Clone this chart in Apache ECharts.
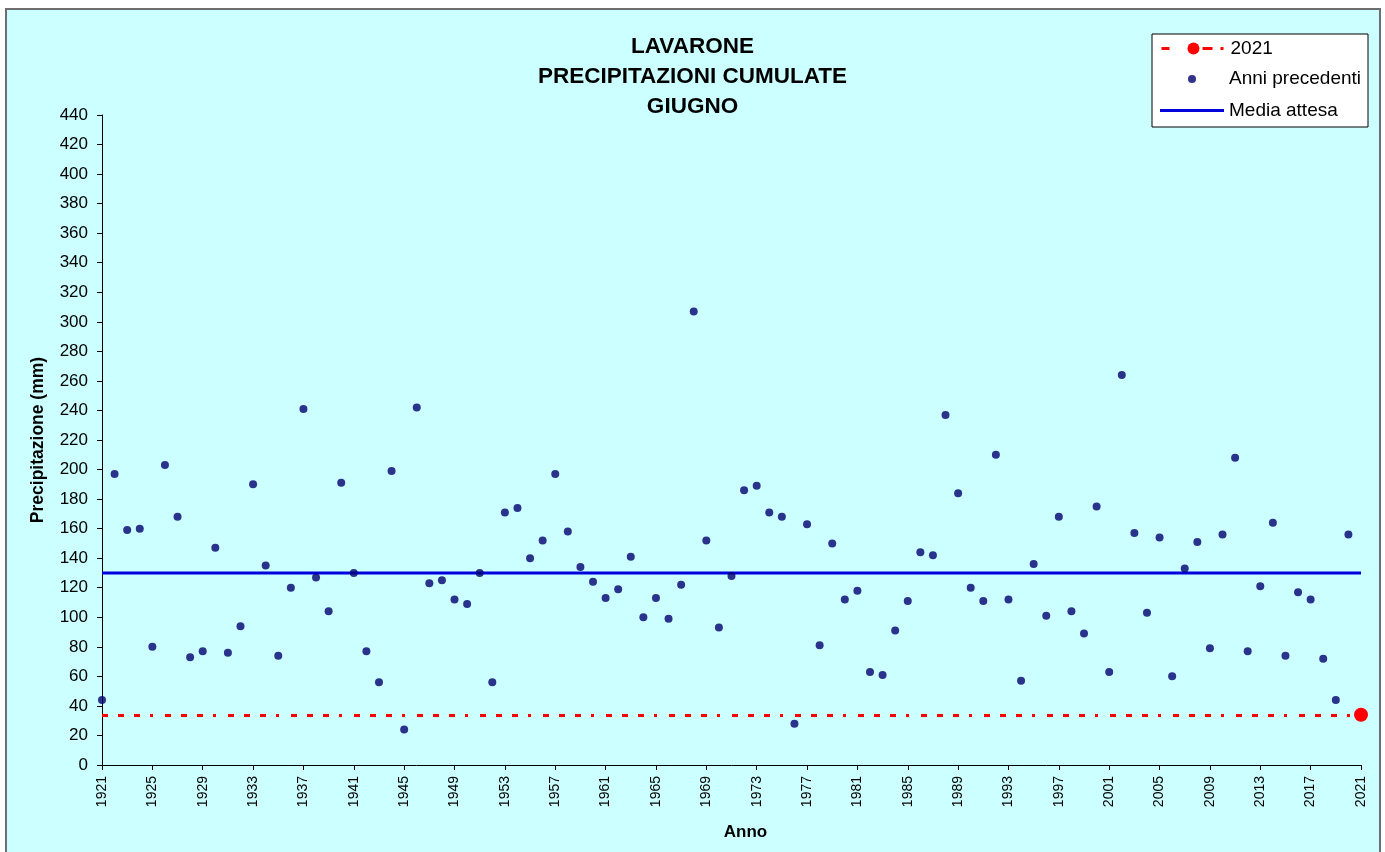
<!DOCTYPE html>
<html>
<head>
<meta charset="utf-8">
<script src="https://cdn.jsdelivr.net/npm/echarts@6/dist/echarts.min.js"></script>
<style>
  html, body { margin: 0; padding: 0; background: #ffffff; }
  #frame { position: absolute; left: 5px; top: 8px; width: 1372px; height: 860px; background: #ccffff; border: 2px solid #6e6e6e; }
  #chart { position: absolute; left: 0; top: 0; width: 1385px; height: 852px; }
</style>
</head>
<body>
<div id="frame"></div>
<div id="chart"></div>
<script>
// Years on the category axis (1921 .. 2021)
const years = [];
for (let y = 1921; y <= 2021; y++) years.push(String(y));

// Precipitation for previous years, 1921 .. 2020 (mm)
const anniPrecedenti = [
  44, 197, 159, 160, 80, 203, 168, 73, 77, 147,
  76, 94, 190, 135, 74, 120, 241, 127, 104, 191,
  130, 77, 56, 199, 24, 242, 123, 125, 112, 109,
  130, 56, 171, 174, 140, 152, 197, 158, 134, 124,
  113, 119, 141, 100, 113, 99, 122, 307, 152, 93,
  128, 186, 189, 171, 168, 28, 163, 81, 150, 112,
  118, 63, 61, 91, 111, 144, 142, 237, 184, 120,
  111, 210, 112, 57, 136, 101, 168, 104, 89, 175,
  63, 264, 157, 103, 154, 60, 133, 151, 79, 156,
  208, 77, 121, 164, 74, 117, 112, 72, 44, 156
];

// Current year value (mm)
const anno2021 = '2021';
const valore2021 = 34;

// Expected mean (mm)
const mediaAttesa = 130;

// Y tick range
const yMin = 0, yMax = 440, yStep = 20;

const FONT = '"Liberation Sans", Arial, sans-serif';
const redDash = [6, 10, 6, 10, 6, 10, 3, 12];

const chart = echarts.init(document.getElementById('chart'), null, { renderer: 'canvas' });

const legendText = { fontFamily: FONT, fontSize: 19, color: '#000' };

chart.setOption({
  backgroundColor: 'transparent',
  animation: false,
  title: {
    text: 'LAVARONE\nPRECIPITAZIONI CUMULATE\nGIUGNO',
    left: 'center',
    top: 27,
    textStyle: { fontFamily: FONT, fontSize: 22.5, fontWeight: 'bold', color: '#000', lineHeight: 30 }
  },
  graphic: [{
    type: 'rect',
    shape: { x: 1152, y: 34, width: 216, height: 93 },
    style: { fill: '#ffffff', stroke: '#000000', lineWidth: 1 },
    z: 0, silent: true
  }],
  legend: [
    { data: ['2021'], orient: 'vertical', left: 1160, top: 39, itemWidth: 64, itemHeight: 15, textStyle: legendText, padding: 0, z: 5,
      lineStyle: { type: [8, 33, 10, 8, 3, 10], width: 3 } },
    { data: ['Anni precedenti'], orient: 'vertical', left: 1188, top: 69.5, itemWidth: 8, itemHeight: 8, icon: 'circle',
      textStyle: Object.assign({}, legendText, { padding: [0, 0, 0, 28] }), padding: 0, z: 5 },
    { data: ['Media attesa'], orient: 'vertical', left: 1160, top: 101, itemWidth: 64, itemHeight: 3, icon: 'rect',
      textStyle: legendText, padding: 0, z: 5 }
  ],
  grid: { left: 102, right: 24, top: 115, bottom: 87, containLabel: false },
  xAxis: {
    type: 'category',
    data: years,
    boundaryGap: false,
    name: 'Anno',
    nameLocation: 'middle',
    nameGap: 59,
    nameTextStyle: { fontFamily: FONT, fontSize: 17, fontWeight: 'bold', color: '#000', padding: [0, 0, 0, 28] },
    axisLine: { lineStyle: { color: '#000', width: 1 } },
    axisTick: { interval: 3, length: 5, lineStyle: { color: '#000' } },
    axisLabel: { interval: 3, rotate: 90, margin: 11, fontFamily: FONT, fontSize: 14, color: '#000' },
    splitLine: { show: false }
  },
  yAxis: {
    type: 'value',
    min: yMin, max: yMax, interval: yStep,
    name: 'Precipitazione (mm)',
    nameLocation: 'middle',
    nameGap: 55,
    nameTextStyle: { fontFamily: FONT, fontSize: 17.5, fontWeight: 'bold', color: '#000' },
    axisLine: { show: true, lineStyle: { color: '#000', width: 1 } },
    axisTick: { show: true, length: 5, lineStyle: { color: '#000' } },
    axisLabel: { margin: 14, fontFamily: FONT, fontSize: 17, color: '#000' },
    splitLine: { show: false }
  },
  series: [
    {
      name: '2021',
      type: 'line',
      data: [[anno2021, valore2021]],
      symbol: 'circle',
      symbolSize: 14,
      itemStyle: { color: '#ff0000' },
      lineStyle: { color: '#ff0000', width: 3, type: redDash },
      z: 4,
      markLine: {
        silent: true,
        symbol: 'none',
        label: { show: false },
        lineStyle: { color: '#ff0000', width: 3, type: redDash },
        data: [{ yAxis: valore2021 }],
        z: 1
      }
    },
    {
      name: 'Anni precedenti',
      type: 'scatter',
      data: anniPrecedenti,
      symbol: 'circle',
      symbolSize: 8,
      itemStyle: { color: '#00006e' },
      z: 3
    },
    {
      name: 'Media attesa',
      type: 'line',
      data: [[years[0], mediaAttesa], [years[years.length - 1], mediaAttesa]],
      symbol: 'none',
      lineStyle: { color: '#0000dd', width: 3 },
      itemStyle: { color: '#0000dd' },
      z: 2
    }
  ]
});
</script>
</body>
</html>
